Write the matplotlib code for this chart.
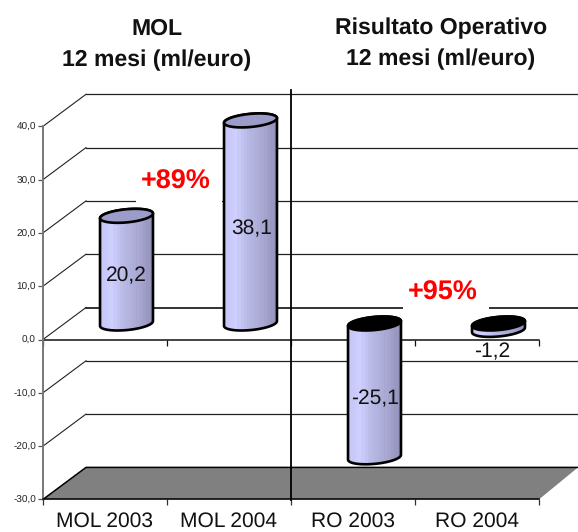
"""MOL / Risultato Operativo 3D cylinder chart."""

import numpy as np
import matplotlib

matplotlib.use("Agg")
import matplotlib.pyplot as plt  # noqa: E402
from matplotlib.colors import LinearSegmentedColormap  # noqa: E402
from matplotlib.patches import PathPatch, Polygon, Rectangle  # noqa: E402
from matplotlib.path import Path  # noqa: E402

plt.rcParams["font.family"] = ["Liberation Sans", "DejaVu Sans"]
plt.rcParams["text.hinting"] = "no_hinting"
plt.rcParams["text.hinting_factor"] = 1

categories = ["MOL 2003", "MOL 2004", "RO 2003", "RO 2004"]
values = [20.2, 38.1, -25.1, -1.2]
value_labels = ["20,2", "38,1", "-25,1", "-1,2"]
y_ticks = [-30, -20, -10, 0, 10, 20, 30, 40]
y_tick_labels = ["-30,0", "-20,0", "-10,0", "0,0", "10,0", "20,0", "30,0", "40,0"]

W, H = 578, 532
X0, CAT_W = 43.0, 124.0  # px of first category edge, px per category
Y0, UNIT = 339.5, 5.33  # px of value 0, px per value unit
DX, DY = 43.0 / CAT_W, 32.0 / UNIT  # depth of the 3D box
A, B, C = 24.9 / CAT_W, 9.0 / CAT_W, 7.0 / UNIT  # skewed cylinder ellipse


def px_x(x):
    return (x - X0) / CAT_W


def px_y(y):
    return (Y0 - y) / UNIT


def arc(cx, cy, t0, t1):
    t = np.linspace(t0, t1, 60)
    return np.column_stack([cx + A * np.cos(t) + B * np.sin(t), cy + C * np.sin(t)])


fig = plt.figure(figsize=(W / 100, H / 100), dpi=100)
ax = fig.add_axes([0, 0, 1, 1])

# back wall gridlines and the diagonals on the side wall
for v in y_ticks[1:]:
    lw = 1.3 if v == 0 else 0.9
    ax.plot([DX, px_x(W)], [v + DY, v + DY], color="#222222", lw=lw, zorder=1)
    ax.plot([0, DX], [v, v + DY], color="#222222", lw=0.8, zorder=1)

# floor
ax.add_patch(Polygon([(0, -30), (DX, -30 + DY), (px_x(W), -30 + DY), (4, -30)],
                     fc="#808080", ec="none", zorder=1.2))
ax.plot([0, DX, px_x(W)], [-30, -30 + DY, -30 + DY], color="black", lw=1.1, zorder=1.3)

# front zero line with its ticks
ax.plot([0, 4], [0, 0], color="#111111", lw=1.1, zorder=1.5)
ax.vlines(range(5), -1.2, 0, color="#111111", lw=0.9, zorder=1.5)

# white gaps behind the percentage labels
for x0, x1, y0, y1 in [(136, 222, 203, 168), (403, 489, 310, 279)]:
    ax.add_patch(Rectangle((px_x(x0), px_y(y0)), px_x(x1) - px_x(x0), px_y(y1) - px_y(y0),
                           fc="white", ec="none", zorder=1.8))

cmap = LinearSegmentedColormap.from_list(
    "cyl", ["#C6C6F6", "#CFCFFF", "#BDBDEA", "#B0B0DC", "#A4A4CE", "#9292BA"], N=16)

for i, v in enumerate(values):
    cx = i + 0.5 + DX / 2
    base = DY / 2
    top = v + base
    t0 = np.arctan2(B, A)
    lo, hi = min(base, top), max(base, top)
    outline = np.vstack([arc(cx, lo, t0, t0 - np.pi), arc(cx, hi, t0 + np.pi, t0)])
    patch = PathPatch(Path(np.vstack([outline, outline[:1]])), fc="none", ec="black",
                      lw=1.9, zorder=3.2)
    ax.add_patch(patch)
    half = np.hypot(A, B)
    im = ax.imshow(np.linspace(0, 1, 16)[None, :], cmap=cmap, aspect="auto", zorder=3,
                   extent=(cx - half, cx + half, lo - 2 * C, hi + 2 * C))
    im.set_clip_path(PathPatch(Path(np.vstack([outline, outline[:1]])),
                               transform=ax.transData))
    ring = arc(cx, base if v < 0 else top, 0, 2 * np.pi)
    ax.add_patch(Polygon(ring, fc="black" if v < 0 else "#9C9CCB", ec="black",
                         lw=1.9, zorder=3.3))

# divider between the two panels
ax.plot([px_x(290.5)] * 2, [px_y(90), px_y(500)], color="black", lw=1.3, zorder=4)

ax.set_xlim(px_x(0), px_x(W))
ax.set_ylim(px_y(H), px_y(0))

for side in ("top", "right"):
    ax.spines[side].set_visible(False)
ax.spines["left"].set_position(("data", 0))
ax.spines["left"].set_bounds(-30, 40)
ax.spines["left"].set_color("#777777")
ax.spines["left"].set_linewidth(1.4)
ax.spines["left"].set_zorder(2)
ax.spines["bottom"].set_position(("data", -30))
ax.spines["bottom"].set_bounds(0, 4)
ax.spines["bottom"].set_color("black")
ax.spines["bottom"].set_linewidth(1.1)
ax.spines["bottom"].set_zorder(2)

ax.set_yticks(y_ticks)
ax.set_yticklabels(y_tick_labels, fontsize=7.4, color="#222222")
ax.tick_params(axis="y", length=3.6, width=0.9, color="#555555", pad=1.5, direction="out")
ax.set_xticks(range(5))
ax.set_xticklabels([""] * 5)
ax.tick_params(axis="x", which="major", length=4, width=0.9, color="#333333")
ax.set_xticks(np.arange(4) + 0.5, minor=True)
ax.set_xticklabels(categories, minor=True, fontsize=15, color="#111111")
ax.tick_params(axis="x", which="minor", length=0, pad=8.5)

# value labels, placed by hand like the original
label_px = [(126, 276), (252, 229), (375, 399), (492, 352)]
for (lx, ly), s in zip(label_px, value_labels):
    ax.text(px_x(lx), px_y(ly), s, fontsize=15, ha="center", va="center",
            color="#111111", zorder=5)

ax.text(px_x(176), px_y(182), "+89%", fontsize=19.5, fontweight="bold", color="#FF0000",
        ha="center", va="center", zorder=5)
ax.text(px_x(443), px_y(292.5), "+95%", fontsize=19.5, fontweight="bold", color="#FF0000",
        ha="center", va="center", zorder=5)

for x, y, s in [(157, 29, "MOL"), (157, 60, "12 mesi (ml/euro)"),
                (441, 28, "Risultato Operativo"), (441, 59, "12 mesi (ml/euro)")]:
    ax.text(px_x(x), px_y(y), s, fontsize=16.9, fontweight="bold", ha="center",
            va="center", color="#111111")

fig.savefig("out.png", dpi=100)
plt.close(fig)
